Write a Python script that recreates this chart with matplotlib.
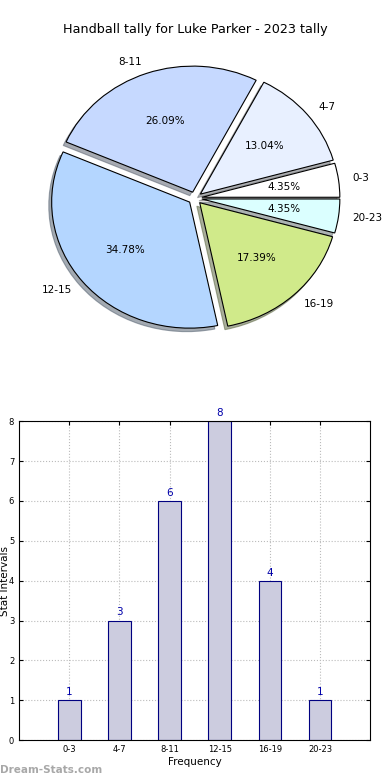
import matplotlib
matplotlib.use('Agg')
import matplotlib.pyplot as plt
import numpy as np

# tally data
categories = ['0-3', '4-7', '8-11', '12-15', '16-19', '20-23']
counts = [1, 3, 6, 8, 4, 1]
pie_colors = ['#ffffff', '#e8f0ff', '#c6d9ff', '#b4d6ff', '#d0ea8a', '#dbffff']

fig = plt.figure(figsize=(3.9, 7.8), dpi=100)

# pie (top half), slightly squashed like the old renderer
ax1 = fig.add_axes([0.0577, 0.544, 0.8846, 0.404])
ax1.pie(counts, labels=categories, colors=pie_colors,
        explode=[0.05] * len(counts), autopct='%1.2f%%',
        shadow={'ox': -0.015, 'oy': -0.02, 'shade': 0.6},
        startangle=0, wedgeprops=dict(edgecolor='black', linewidth=0.8),
        textprops=dict(fontsize=7.5))
ax1.set_aspect('auto')
ax1.set_xlim(-1.25, 1.25)
ax1.set_ylim(-1.25, 1.25)
fig.text(0.5, 1 - 30 / 780, 'Handball tally for Luke Parker - 2023 tally',
         ha='center', va='center', fontsize=9.2)

# bar chart (bottom half)
ax2 = fig.add_axes([0.049, 0.051, 0.9, 0.409])
x = np.arange(len(categories))
ax2.bar(x, counts, width=0.45, color='#ccccdf', edgecolor='#000080',
        linewidth=0.8, zorder=2)
for xi, c in zip(x, counts):
    ax2.text(xi, c + 0.08, str(c), ha='center', va='bottom',
             fontsize=7.5, color='#0000aa')
ax2.set_xlim(-1, 6)
ax2.set_ylim(0, 8)
ax2.set_xticks(x)
ax2.set_xticklabels(categories)
ax2.set_yticks(range(9))
ax2.tick_params(direction='in', top=True, right=True, labelsize=6, length=3)
ax2.grid(True, linestyle=':', color='#bbbbbb', linewidth=0.8, zorder=0)
ax2.set_axisbelow(True)
ax2.set_xlabel('Frequency', fontsize=7.5, labelpad=2)
ax2.set_ylabel('Stat Intervals', fontsize=7.5)
ax2.yaxis.set_label_coords(-0.027, 0.5)

fig.text(0.0, 1 - 770 / 780, 'Dream-Stats.com', ha='left', va='center',
         fontsize=7.5, color='#a8a8a8', fontweight='bold')

fig.savefig('out.png', dpi=100)
